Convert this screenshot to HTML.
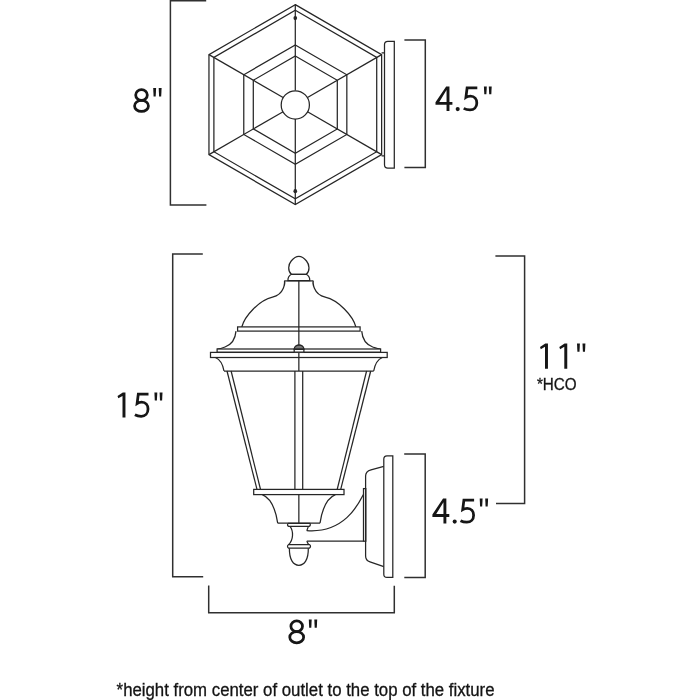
<!DOCTYPE html>
<html><head><meta charset="utf-8"><style>
html,body{margin:0;padding:0;background:#fff;width:700px;height:700px;overflow:hidden}
svg{display:block}
text{font-family:"Liberation Sans",sans-serif;fill:#141414}
svg{will-change:transform}
</style></head><body>
<svg width="700" height="700" viewBox="0 0 700 700">
<rect width="700" height="700" fill="#fff"/>
<g transform="translate(0,4.6) scale(1,1.003) translate(0,-4.6)">
<polygon points="295.30,4.60 381.64,54.45 381.64,154.15 295.30,204.00 208.96,154.15 208.96,54.45" fill="none" stroke="#262626" stroke-width="1.25"/>
<polygon points="295.30,10.30 376.71,57.30 376.71,151.30 295.30,198.30 213.89,151.30 213.89,57.30" fill="none" stroke="#262626" stroke-width="1.25"/>
<polygon points="295.30,44.80 346.83,74.55 346.83,134.05 295.30,163.80 243.77,134.05 243.77,74.55" fill="none" stroke="#262626" stroke-width="1.25"/>
<polygon points="295.30,55.80 337.30,80.05 337.30,128.55 295.30,152.80 253.30,128.55 253.30,80.05" fill="none" stroke="#262626" stroke-width="1.25"/>
<line x1="295.30" y1="4.60" x2="295.30" y2="90.20" stroke="#262626" stroke-width="1.25"/>
<line x1="381.64" y1="54.45" x2="307.51" y2="97.25" stroke="#262626" stroke-width="1.25"/>
<line x1="381.64" y1="154.15" x2="307.51" y2="111.35" stroke="#262626" stroke-width="1.25"/>
<line x1="295.30" y1="204.00" x2="295.30" y2="118.40" stroke="#262626" stroke-width="1.25"/>
<line x1="208.96" y1="154.15" x2="283.09" y2="111.35" stroke="#262626" stroke-width="1.25"/>
<line x1="208.96" y1="54.45" x2="283.09" y2="97.25" stroke="#262626" stroke-width="1.25"/>
<circle cx="295.3" cy="104.6" r="14.1" fill="#fff" stroke="#262626" stroke-width="1.25"/>
<ellipse cx="295.3" cy="18" rx="1.85" ry="2.1" fill="#262626"/>
<ellipse cx="295.3" cy="190.6" rx="1.85" ry="2.1" fill="#262626"/>
</g>
<path d="M381.6,52.8 H384.5 M381.6,155.8 H384.5" stroke="#262626" stroke-width="1.25" fill="none"/>
<path d="M394.3,41.3 H387.8 Q384.5,41.3 384.5,44.6 V164.7 Q384.5,168 387.8,168 H394.3 Z" fill="#fff" stroke="#262626" stroke-width="1.25"/>
<path d="M291.4,274.3 C287.5,271 288.2,264.5 291.2,261 C294,257.6 296.2,256.4 298.85,256.4 C301.5,256.4 303.7,257.6 306.5,261 C309.5,264.5 310.2,271 306.3,274.3 Z" fill="#fff" stroke="#262626" stroke-width="1.25"/>
<path d="M291.4,274.3 H306.3 C308.8,275.5 309.8,277.8 309.8,280.7 H287.9 C287.9,277.8 288.9,275.5 291.4,274.3 Z" fill="#fff" stroke="#262626" stroke-width="1.25"/>
<path d="M284.3,280.9 H313.40" stroke="#262626" stroke-width="1.25"/>
<path d="M284.3,280.9 C285,281.75 284.87,294.32 272.49,297.16 C259.36,300.17 244.74,315.69 241.8,327" fill="none" stroke="#262626" stroke-width="1.25"/>
<path d="M313.40 280.90 C312.70 281.75 312.83 294.32 325.21 297.16 C338.34 300.17 352.96 315.69 355.90 327.00" fill="none" stroke="#262626" stroke-width="1.25"/>
<rect x="237.6" y="326.9" width="122.50" height="4.2" fill="#fff" stroke="#262626" stroke-width="1.25"/>
<path d="M236,331.1 C235.5,337 233,344 225,347 C222,348.3 219,349 217.1,349" fill="none" stroke="#262626" stroke-width="1.25"/>
<path d="M361.70,331.1 C362.20,337 364.70,344 372.70,347 C375.70,348 378.70,349 380.60,349" fill="none" stroke="#262626" stroke-width="1.25"/>
<rect x="217.1" y="349.0" width="163.50" height="3.3" fill="#fff" stroke="#262626" stroke-width="1.25"/>
<rect x="210.5" y="352.4" width="176.70" height="5.1" fill="#fff" stroke="#262626" stroke-width="1.25"/>
<path d="M215.4,357.5 C219,359 222.5,362.5 224,371" fill="none" stroke="#262626" stroke-width="1.25"/>
<path d="M382.30,357.5 C378.70,359 375.20,362.5 373.70,371" fill="none" stroke="#262626" stroke-width="1.25"/>
<path d="M224,371 H373.70" stroke="#262626" stroke-width="1.25"/>
<path d="M298.85,280.9 V371" stroke="#262626" stroke-width="1.25"/>
<path d="M294.2,352.2 V349.6 A4.85,4.4 0 0 1 303.9,349.6 V352.2 Z" fill="#fff" stroke="#262626" stroke-width="1.25"/>
<path d="M294.2,349.4 A4.85,4.4 0 0 1 303.9,349.4 Z" fill="#777" stroke="#262626" stroke-width="1.25"/>
<path d="M294.2,349 H303.9" stroke="#262626" stroke-width="1.25"/>
<path d="M227.0,371 L257.0,489.4" stroke="#262626" stroke-width="1.25"/>
<path d="M370.70,371 L340.70,489.4" stroke="#262626" stroke-width="1.25"/>
<path d="M231.1,371 L260.5,489.4" stroke="#262626" stroke-width="1.25"/>
<path d="M366.60,371 L337.20,489.4" stroke="#262626" stroke-width="1.25"/>
<path d="M294.9,371 V489.4 M302.7,371 V489.4" stroke="#262626" stroke-width="1.25"/>
<rect x="253.7" y="489.4" width="90.30" height="5.2" fill="#fff" stroke="#262626" stroke-width="1.25"/>
<path d="M262.3,494.6 C268,497 275,505 277.7,523.2" fill="none" stroke="#262626" stroke-width="1.25"/>
<path d="M335.40,494.6 C329.70,497 322.70,505 320.00,523.2" fill="none" stroke="#262626" stroke-width="1.25"/>
<path d="M277.7,523.2 H320.00" stroke="#262626" stroke-width="1.25"/>
<path d="M298.85,494.6 V523.2" stroke="#262626" stroke-width="1.25"/>
<path d="M288.4,523.3 H309.7 C310.6,524 310.6,525.8 309.2,526.4 H288.6 C287.2,525.8 287.2,524 288.4,523.3 Z" fill="#fff" stroke="#262626" stroke-width="1.25"/>
<path d="M290,526.4 C293.6,531 293.6,540 288.5,544.8 M308.4,526.4 L306.8,530.6 M306.8,541.3 L308.6,544.6" fill="none" stroke="#262626" stroke-width="1.25"/>
<path d="M288.4,544.7 H309.7 C310.8,545.4 310.8,547.4 309.4,548.1 H288.6 C287.2,547.4 287.2,545.4 288.4,544.7 Z" fill="#fff" stroke="#262626" stroke-width="1.25"/>
<path d="M289.4,548.3 C289.2,560 293.5,565.3 298.85,565.3 C304.2,565.3 308.5,560 308.3,548.3" fill="none" stroke="#262626" stroke-width="1.25"/>
<path d="M306.8,530.6 C345,533.6 359.2,502.7 363.7,494" fill="none" stroke="#262626" stroke-width="1.25"/>
<path d="M306.8,541.2 H363.6" stroke="#262626" stroke-width="1.25"/>
<rect x="363.5" y="488.6" width="2.3" height="52.6" fill="#fff" stroke="#262626" stroke-width="1.25"/>
<path d="M383.8,466.3 L371,469.8 Q365.6,471.3 365.6,476 V556 Q365.6,560.6 370,561.8 L383.8,566.7" fill="none" stroke="#262626" stroke-width="1.25"/>
<path d="M392.8,455.8 H387 Q383.8,455.8 383.8,459 V574.2 Q383.8,577.4 387,577.4 H392.8 Z" fill="#fff" stroke="#262626" stroke-width="1.25"/>
<path d="M206.2,0.7 H170.4 V204.9 H206.4" fill="none" stroke="#303030" stroke-width="1.5" stroke-linejoin="miter" stroke-linecap="butt"/>
<path d="M404.4,40 H425.3 V167.6 H404.4" fill="none" stroke="#303030" stroke-width="1.5" stroke-linejoin="miter" stroke-linecap="butt"/>
<path d="M202.8,254 H172.7 V576.8 H203.2" fill="none" stroke="#303030" stroke-width="1.5" stroke-linejoin="miter" stroke-linecap="butt"/>
<path d="M495.4,256 H524.6 V503.4 H496" fill="none" stroke="#303030" stroke-width="1.5" stroke-linejoin="miter" stroke-linecap="butt"/>
<path d="M404.2,453.9 H425.2 V577.6 H404.3" fill="none" stroke="#303030" stroke-width="1.5" stroke-linejoin="miter" stroke-linecap="butt"/>
<path d="M208.7,585.5 V612.8 H394.3 V585.8" fill="none" stroke="#303030" stroke-width="1.5" stroke-linejoin="miter" stroke-linecap="butt"/>
<ellipse cx="141.50" cy="95.02" rx="5.81" ry="5.34" fill="none" stroke="#161616" stroke-width="2.75"/><ellipse cx="141.50" cy="105.89" rx="6.93" ry="5.53" fill="none" stroke="#161616" stroke-width="2.75"/>
<path d="M153.20,87.90 H156.10 L155.70,96.50 H153.60 Z" fill="#161616"/><path d="M158.70,87.90 H161.60 L161.20,96.50 H159.10 Z" fill="#161616"/>
<path fill-rule="evenodd" fill="#161616" d="M446.15,86.40 H449.45 V101.90 H452.40 V104.70 H449.45 V111.10 H446.55 V104.70 H435.50 V102.20 Z M446.55,90.00 V101.90 H439.30 Z"/>
<circle cx="457.70" cy="109.10" r="2.05" fill="#161616"/>
<path d="M477.30,87.97 H467.10 L465.90,97.40 C467.30,96.50 468.80,96.10 470.40,96.10 C474.60,96.10 476.82,99.20 476.82,103.00 C476.82,107.20 474.00,109.92 470.00,109.92 C467.70,109.92 465.70,109.50 463.70,108.40" fill="none" stroke="#161616" stroke-width="2.75"/>
<path d="M483.90,86.40 H486.80 L486.40,94.20 H484.30 Z" fill="#161616"/><path d="M488.80,86.40 H491.70 L491.30,94.20 H489.20 Z" fill="#161616"/>
<path d="M122.50,392.60 H125.45 V417.60 H122.50 V395.90 L118.30,398.30 L117.50,396.10 L122.80,392.60 Z" fill="#161616"/>
<path d="M148.50,394.07 H138.30 L137.10,403.50 C138.50,402.60 140.00,402.20 141.60,402.20 C145.80,402.20 148.03,405.30 148.03,409.10 C148.03,413.30 145.20,416.32 141.20,416.32 C138.90,416.32 136.90,415.90 134.90,414.80" fill="none" stroke="#161616" stroke-width="2.75"/>
<path d="M154.40,392.50 H157.30 L156.90,400.50 H154.80 Z" fill="#161616"/><path d="M159.60,392.50 H162.50 L162.10,400.50 H160.00 Z" fill="#161616"/>
<path d="M545.00,343.50 H547.95 V368.80 H545.00 V346.80 L540.80,349.20 L540.00,347.00 L545.30,343.50 Z" fill="#161616"/>
<path d="M564.30,343.50 H567.25 V368.80 H564.30 V346.80 L560.10,349.20 L559.30,347.00 L564.60,343.50 Z" fill="#161616"/>
<path d="M577.00,343.50 H579.90 L579.50,351.70 H577.40 Z" fill="#161616"/><path d="M582.50,343.50 H585.40 L585.00,351.70 H582.90 Z" fill="#161616"/>
<path fill-rule="evenodd" fill="#161616" d="M443.05,498.60 H446.35 V514.10 H449.30 V516.90 H446.35 V523.40 H443.45 V516.90 H432.40 V514.40 Z M443.45,502.20 V514.10 H436.20 Z"/>
<circle cx="454.70" cy="521.60" r="2.05" fill="#161616"/>
<path d="M474.10,500.18 H463.90 L462.70,509.60 C464.10,508.70 465.60,508.30 467.20,508.30 C471.40,508.30 473.62,511.40 473.62,515.20 C473.62,519.40 470.80,522.23 466.80,522.23 C464.50,522.23 462.50,521.80 460.50,520.70" fill="none" stroke="#161616" stroke-width="2.75"/>
<path d="M479.70,498.50 H482.60 L482.20,506.40 H480.10 Z" fill="#161616"/><path d="M485.20,498.50 H488.10 L487.70,506.40 H485.60 Z" fill="#161616"/>
<ellipse cx="296.70" cy="626.26" rx="5.81" ry="5.38" fill="none" stroke="#161616" stroke-width="2.75"/><ellipse cx="296.70" cy="637.23" rx="6.93" ry="5.59" fill="none" stroke="#161616" stroke-width="2.75"/>
<path d="M308.80,619.40 H311.70 L311.30,627.80 H309.20 Z" fill="#161616"/><path d="M314.30,619.40 H317.20 L316.80,627.80 H314.70 Z" fill="#161616"/>
<text transform="translate(536.90,389.75) scale(0.9050,1)" font-size="16.85" stroke="#141414" stroke-width="0.3">*HCO</text>
<text transform="translate(116.60,695.70) scale(0.9599,1)" font-size="17.5" stroke="#141414" stroke-width="0.3">*height from center of outlet to the top of the fixture</text>
</svg>
</body></html>
